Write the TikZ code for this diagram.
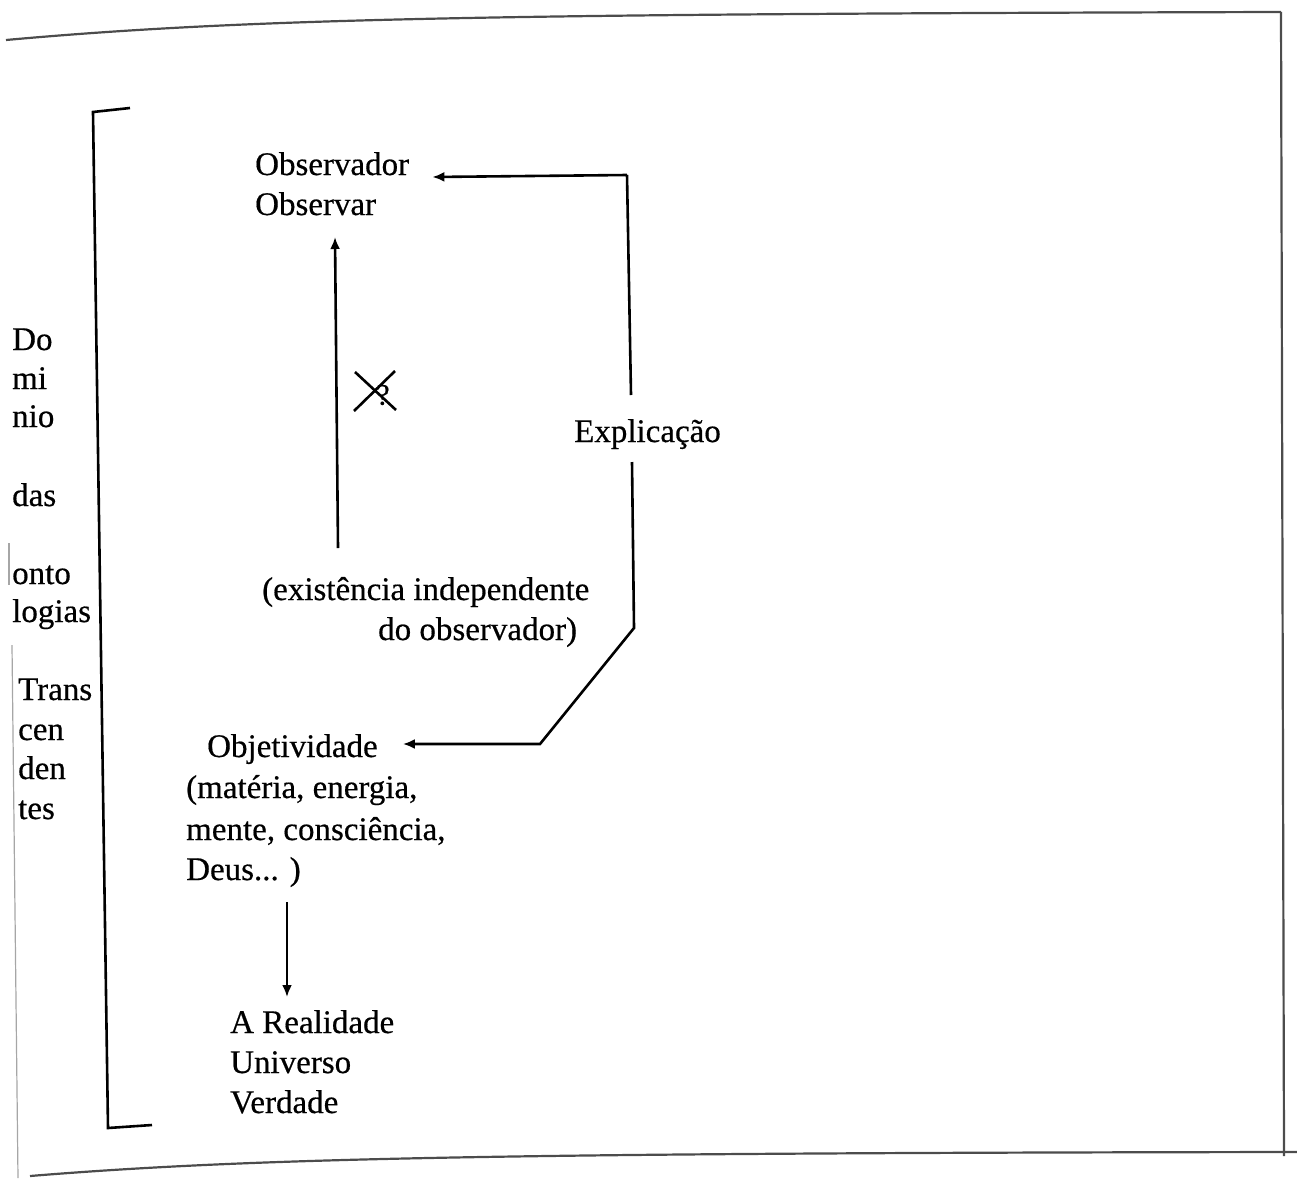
\documentclass[tikz,border=0pt]{standalone}
\usepackage{fontspec}
\setmainfont{Liberation Serif}[FakeBold=0.5]
\usetikzlibrary{arrows.meta}
\begin{document}
\begin{tikzpicture}[x=1pt,y=-1pt,
  txt/.style={anchor=base west,inner sep=0pt,font=\fontsize{33}{40}\selectfont},
  conn/.style={line width=2.6pt,-{Latex[length=12pt,width=10pt]}},
  plain/.style={line width=2.6pt},
  frame/.style={line width=2.2pt,draw=black!70},
  faint/.style={line width=1.2pt,draw=black!35}]
\useasboundingbox (0,0) rectangle (1297,1178);
% page frame
\draw[frame] (6,40) .. controls (250,18) and (500,14) .. (1281,12);
\draw[frame] (1281,12) -- (1284,1156);
\draw[frame] (30,1176) .. controls (250,1158) and (500,1153) .. (1297,1152);
\draw[faint] (12,645) -- (18,1178);
\draw[faint] (9,543) -- (9,585);
% bracket
\draw[plain] (130,108) -- (93,112) -- (108,1128) -- (152,1125);
% left column text
\node[txt] (l1) at (12,350) {Do};
\node[txt] (l2) at (12,389) {mi};
\node[txt] (l3) at (12,427) {nio};
\node[txt] (l4) at (12,506) {das};
\node[txt] (l5) at (12,584) {onto};
\node[txt] (l6) at (12,622) {logias};
\node[txt] (l7) at (18,700) {Trans};
\node[txt] (l8) at (18,740) {cen};
\node[txt] (l9) at (18,779) {den};
\node[txt] (l10) at (18,819) {tes};
% main texts
\node[txt] (obs1) at (255,175) {Observador};
\node[txt] (obs2) at (255,215) {Observar};
\node[txt] (expl) at (574,442) {Explicação};
\node[txt] (ex1) at (262,600) {(existência independente};
\node[txt] (ex2) at (378,640) {do observador)};
\node[txt] (obj1) at (207,757) {Objetividade};
\node[txt] (obj2) at (186,798) {(matéria, energia,};
\node[txt] (obj3) at (186,840) {mente, consciência,};
\node[txt] (obj4) at (186,880) {Deus... )};
\node[txt] (r1) at (230,1033) {A Realidade};
\node[txt] (r2) at (230,1073) {Universo};
\node[txt] (r3) at (230,1113) {Verdade};
% connectors
\coordinate (eTop) at (627,175);
\coordinate (eA) at (631,395);
\coordinate (eB) at (632,462);
\coordinate (eC) at (634,628);
\coordinate (eD) at (540,744);
\draw[conn] (eTop) -- ([shift={(23,2)}]obs1.base east);
\draw[plain] (eTop) -- (eA);
\draw[conn] (eB) -- (eC) -- (eD) -- ([xshift=25pt]obj1.east |- eD);
\coordinate (vA) at (338,548);
\coordinate (vB) at (335,237);
\draw[conn] (vA) -- (vB);
\coordinate (dA) at (287,902);
\coordinate (dB) at (287,997);
\draw[conn] (dA) -- (dB);
% crossed mark
\draw[plain] (355,372) -- (396,410);
\draw[plain] (354,411) -- (395,371);
\node[inner sep=0pt,font=\fontsize{30}{30}\selectfont] (q) at (383,395) {?};
\end{tikzpicture}
\end{document}
